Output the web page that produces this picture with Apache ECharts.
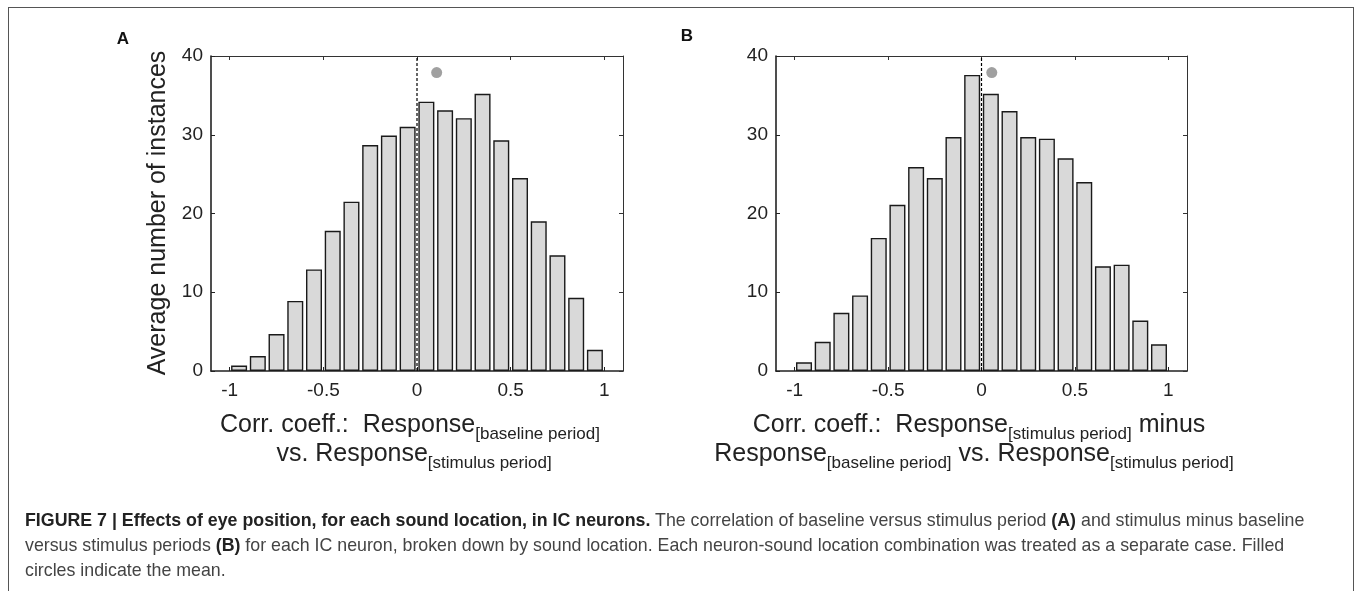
<!DOCTYPE html>
<html lang="en">
<head>
<meta charset="UTF-8">
<title>Figure 7</title>
<script src="https://cdn.jsdelivr.net/npm/echarts@6.0.0/dist/echarts.min.js"></script>
<style>
  * { margin: 0; padding: 0; box-sizing: border-box; }
  body { width: 1356px; height: 591px; background: #fff; position: relative; overflow: hidden; }
  #chart { position: absolute; left: 0; top: 0; width: 1356px; height: 591px; }
  .frame {
    position: absolute; left: 8px; top: 7px; width: 1346px; height: 600px;
    border: 1px solid #555; border-bottom: none;
  }
  .caption {
    position: absolute; left: 25px; top: 508px;
    font-family: "Liberation Sans", Arial, sans-serif;
    font-size: 17.8px; line-height: 25px; color: #444; white-space: nowrap;
  }
  .caption b { color: #222; }
</style>
</head>
<body>
<div class="frame"></div>
<div id="chart"></div>
<div class="caption">
  <b>FIGURE 7 | Effects of eye position, for each sound location, in IC neurons.</b> The correlation of baseline versus stimulus period <b>(A)</b> and stimulus minus baseline<br>
  versus stimulus periods <b>(B)</b> for each IC neuron, broken down by sound location. Each neuron-sound location combination was treated as a separate case. Filled<br>
  circles indicate the mean.
</div>
<script>
// bin centres of the correlation histogram
const binCenters = [-0.95, -0.85, -0.75, -0.65, -0.55, -0.45, -0.35, -0.25, -0.15, -0.05,
                    0.05, 0.15, 0.25, 0.35, 0.45, 0.55, 0.65, 0.75, 0.85, 0.95];
// A: baseline vs stimulus period
const countsA = [0.7, 1.9, 4.7, 8.9, 12.9, 17.8, 21.5, 28.7, 29.9, 31.0,
                 34.2, 33.1, 32.1, 35.2, 29.3, 24.5, 19.0, 14.7, 9.3, 2.7];
// B: stimulus minus baseline vs stimulus period
const countsB = [1.1, 3.7, 7.4, 9.6, 16.9, 21.1, 25.9, 24.5, 29.7, 37.6,
                 35.2, 33.0, 29.7, 29.5, 27.0, 24.0, 13.3, 13.5, 6.4, 3.4];
const meanA = [0.105, 37.9];
const meanB = [0.055, 37.9];
const xTicks = [-1, -0.5, 0, 0.5, 1];
const yTicks = [0, 10, 20, 30, 40];

const FONT = '"Liberation Sans", Arial, sans-serif';
const INK = '#222';

const chart = echarts.init(document.getElementById('chart'));

function axesFor(idx) {
  const common = { gridIndex: idx, type: 'value', min: -1.1, max: 1.1 };
  const x = [
    Object.assign({}, common, {
      position: 'bottom',
      axisLine: { onZero: false, lineStyle: { color: INK, width: 1.6 } },
      axisTick: { inside: true, length: 4, customValues: xTicks, lineStyle: { color: INK } },
      axisLabel: { customValues: xTicks, color: INK, fontSize: 19, fontFamily: FONT, margin: 10,
                   formatter: v => String(v) },
      splitLine: { show: false }
    }),
    Object.assign({}, common, {
      position: 'top',
      axisLine: { onZero: false, lineStyle: { color: '#333', width: 1 } },
      axisTick: { inside: true, length: 4, customValues: xTicks, lineStyle: { color: '#333' } },
      axisLabel: { show: false },
      splitLine: { show: false }
    })
  ];
  const ycommon = { gridIndex: idx, type: 'value', min: 0, max: 40, interval: 10 };
  const y = [
    Object.assign({}, ycommon, {
      position: 'left',
      axisLine: { show: true, onZero: false, lineStyle: { color: INK, width: 1.6 } },
      axisTick: { show: true, inside: true, length: 4, lineStyle: { color: INK } },
      axisLabel: { color: INK, fontSize: 19, fontFamily: FONT, margin: 8 },
      splitLine: { show: false }
    }),
    Object.assign({}, ycommon, {
      position: 'right',
      axisLine: { show: true, onZero: false, lineStyle: { color: '#333', width: 1 } },
      axisTick: { show: true, inside: true, length: 4, lineStyle: { color: '#333' } },
      axisLabel: { show: false },
      splitLine: { show: false }
    })
  ];
  return { x, y };
}

const axA = axesFor(0), axB = axesFor(1);

function seriesFor(counts, mean, xi, yi) {
  return [
    {
      type: 'bar', xAxisIndex: xi, yAxisIndex: yi, barWidth: 16,
      data: binCenters.map((c, i) => [c, counts[i]]),
      itemStyle: { color: '#d9d9d9', borderColor: '#1a1a1a', borderWidth: 1.4 },
      silent: true, animation: false, z: 2
    },
    {
      type: 'line', xAxisIndex: xi, yAxisIndex: yi, symbol: 'none',
      data: [[0, 0], [0, 40]],
      lineStyle: { color: '#000', width: 1.2, type: [3, 2] },
      silent: true, animation: false, z: 5
    },
    {
      type: 'scatter', xAxisIndex: xi, yAxisIndex: yi, symbolSize: 11,
      data: [mean], itemStyle: { color: '#888' },
      silent: true, animation: false, z: 5
    }
  ];
}

// axis titles with subscripts: build text pieces laid out by measured width
const measureCtx = document.createElement('canvas').getContext('2d');
function textWidth(s, size) {
  measureCtx.font = size + 'px ' + FONT;
  return measureCtx.measureText(s).width;
}
function titleLine(parts, cx, cy) {
  const MAIN = 25, SUB = 17;
  const widths = parts.map(p => textWidth(p[0], p[1] ? SUB : MAIN));
  const total = widths.reduce((a, b) => a + b, 0);
  let x = cx - total / 2;
  return parts.map((p, i) => {
    const el = {
      type: 'text', x: x, y: p[1] ? cy + 9 : cy,
      style: { text: p[0], fontSize: p[1] ? SUB : MAIN, fontFamily: FONT, fill: INK,
               align: 'left', verticalAlign: 'middle' }
    };
    x += widths[i];
    return el;
  });
}

const graphics = [].concat(
  titleLine([['Corr. coeff.:  Response', 0], ['[baseline period]', 1]], 410, 425),
  titleLine([['vs. Response', 0], ['[stimulus period]', 1]], 414, 454),
  titleLine([['Corr. coeff.:  Response', 0], ['[stimulus period]', 1], [' minus', 0]], 979, 425),
  titleLine([['Response', 0], ['[baseline period]', 1], [' vs. Response', 0], ['[stimulus period]', 1]], 974, 454),
  [
    { type: 'text', x: 158, y: 213, rotation: Math.PI / 2,
      style: { text: 'Average number of instances', fontSize: 25, fontFamily: FONT, fill: INK,
               align: 'center', verticalAlign: 'middle' } },
    { type: 'text', x: 123, y: 39,
      style: { text: 'A', fontSize: 17, fontWeight: 'bold', fontFamily: FONT, fill: '#111',
               align: 'center', verticalAlign: 'middle' } },
    { type: 'text', x: 687, y: 36,
      style: { text: 'B', fontSize: 17, fontWeight: 'bold', fontFamily: FONT, fill: '#111',
               align: 'center', verticalAlign: 'middle' } }
  ]
);

chart.setOption({
  animation: false,
  grid: [
    { left: 211, top: 56, width: 412, height: 315 },
    { left: 776, top: 56, width: 411, height: 315 }
  ],
  xAxis: [axA.x[0], axA.x[1], axB.x[0], axB.x[1]],
  yAxis: [axA.y[0], axA.y[1], axB.y[0], axB.y[1]],
  series: [].concat(seriesFor(countsA, meanA, 0, 0), seriesFor(countsB, meanB, 2, 2)),
  graphic: graphics
});
</script>
</body>
</html>
